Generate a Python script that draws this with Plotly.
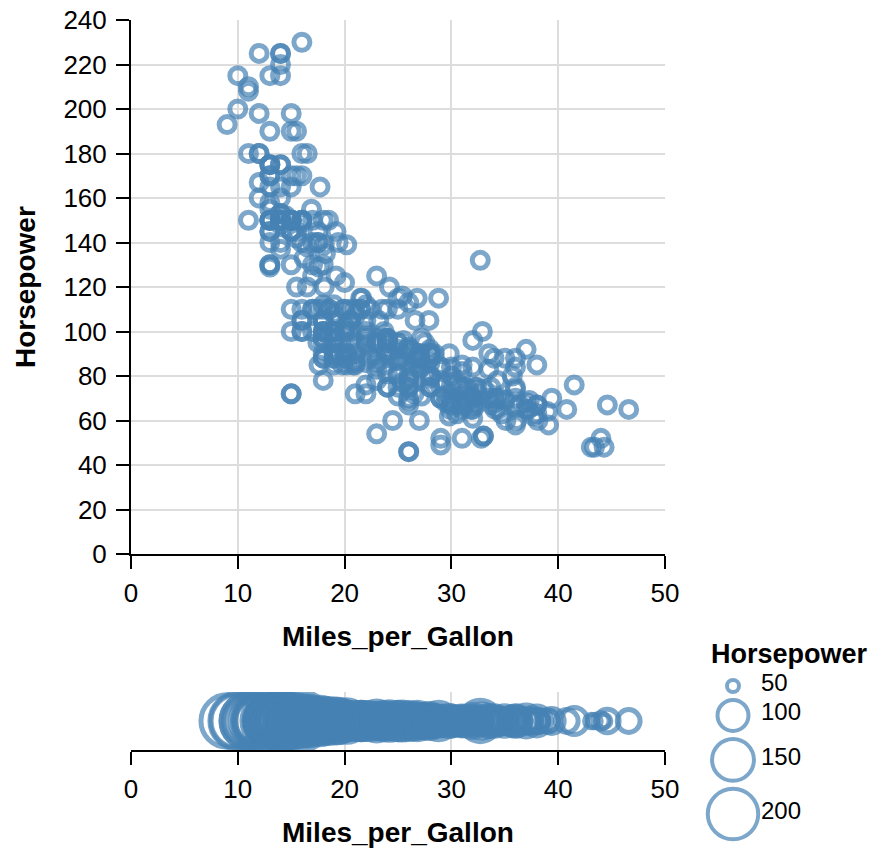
import math
import plotly.graph_objects as go

# Cars dataset: Miles_per_Gallon and Horsepower (None = missing horsepower)
mpg = [
    18, 15, 18, 16, 17, 15, 14, 14, 14, 15,
    15, 14, 15, 14, 24, 22, 18, 21, 27, 26,
    25, 24, 25, 26, 21, 10, 10, 11, 9, 27,
    28, 25, 25, 19, 16, 17, 19, 18, 14, 14,
    14, 14, 12, 13, 13, 18, 22, 19, 18, 23,
    28, 30, 30, 31, 35, 27, 26, 24, 25, 23,
    20, 21, 13, 14, 15, 14, 17, 11, 13, 12,
    13, 19, 15, 13, 13, 14, 18, 22, 21, 26,
    22, 28, 23, 28, 27, 13, 14, 13, 14, 15,
    12, 13, 13, 14, 13, 12, 13, 18, 16, 18,
    18, 23, 26, 11, 12, 13, 12, 18, 20, 21,
    22, 18, 19, 21, 26, 15, 16, 29, 24, 20,
    19, 15, 24, 20, 11, 20, 21, 19, 15, 31,
    26, 32, 25, 16, 16, 18, 16, 13, 14, 14,
    14, 29, 26, 26, 31, 32, 28, 24, 26, 24,
    26, 31, 19, 18, 15, 15, 16, 15, 16, 14,
    17, 16, 15, 18, 21, 20, 13, 29, 23, 20,
    23, 24, 25, 24, 18, 29, 19, 23, 23, 22,
    25, 33, 28, 25, 25, 26, 27, 17.5, 16, 15.5,
    14.5, 22, 22, 24, 22.5, 29, 24.5, 29, 33, 20,
    18, 18.5, 17.5, 29.5, 32, 28, 26.5, 20, 13, 19,
    19, 16.5, 16.5, 13, 13, 13, 31.5, 30, 36, 25.5,
    33.5, 17.5, 17, 15.5, 15, 17.5, 20.5, 19, 18.5, 16,
    15.5, 15.5, 16, 29, 24.5, 26, 25.5, 30.5, 33.5, 30,
    30.5, 22, 21.5, 21.5, 43.1, 36.1, 32.8, 39.4, 36.1, 19.9,
    19.4, 20.2, 19.2, 20.5, 20.2, 25.1, 20.5, 19.4, 20.6, 20.8,
    18.6, 18.1, 19.2, 17.7, 18.1, 17.5, 30, 27.5, 27.2, 30.9,
    21.1, 23.2, 23.8, 23.9, 20.3, 17, 21.6, 16.2, 31.5, 29.5,
    21.5, 19.8, 22.3, 20.2, 20.6, 17, 17.6, 16.5, 18.2, 16.9,
    15.5, 19.2, 18.5, 31.9, 34.1, 35.7, 27.4, 25.4, 23, 27.2,
    23.9, 34.2, 34.5, 31.8, 37.3, 28.4, 28.8, 26.8, 33.5, 41.5,
    38.1, 32.1, 37.2, 28, 26.4, 24.3, 19.1, 34.3, 29.8, 31.3,
    37, 32.2, 46.6, 27.9, 40.8, 44.3, 43.4, 36.4, 30, 44.6,
    40.9, 33.8, 29.8, 32.7, 23.7, 35, 23.6, 32.4, 27.2, 26.6,
    25.8, 23.5, 30, 39.1, 39, 35.1, 32.3, 37, 37.7, 34.1,
    34.7, 34.4, 29.9, 33, 34.5, 33.7, 32.4, 32.9, 31.6, 28.1,
    30.7, 25.4, 24.2, 22.4, 26.6, 20.2, 17.6, 28, 27, 34,
    31, 29, 27, 24, 23, 36, 37, 31, 38, 36,
    36, 36, 34, 38, 32, 38, 25, 38, 26, 22,
    32, 36, 27, 27, 44, 32, 28, 31,
]

horsepower = [
    130, 165, 150, 150, 140, 198, 220, 215, 225, 190,
    170, 160, 150, 225, 95, 95, 97, 85, 88, 46,
    87, 90, 95, 113, 90, 215, 200, 210, 193, 88,
    90, 95, None, 100, 105, 100, 88, 100, 165, 175,
    153, 150, 180, 170, 175, 110, 72, 100, 88, 86,
    90, 70, 76, 65, 69, 60, 70, 95, 80, 54,
    90, 86, 165, 175, 150, 153, 150, 208, 155, 160,
    190, 97, 150, 130, 140, 150, 112, 76, 87, 69,
    86, 92, 97, 80, 88, 175, 150, 145, 137, 150,
    198, 150, 158, 150, 215, 225, 175, 105, 100, 100,
    88, 95, 46, 150, 167, 170, 180, 100, 88, 72,
    94, 90, 85, 107, 90, 145, 230, 49, 75, 91,
    112, 150, 110, 122, 180, 95, None, 100, 100, 67,
    80, 65, 75, 100, 110, 105, 140, 150, 150, 140,
    150, 83, 67, 78, 52, 61, 75, 75, 75, 97,
    93, 67, 95, 105, 72, 72, 170, 145, 150, 148,
    110, 105, 110, 95, 110, 110, 129, 75, 83, 100,
    78, 96, 71, 97, 97, 70, 90, 95, 88, 98,
    115, 53, 86, 81, 92, 79, 83, 140, 150, 120,
    152, 100, 105, 81, 90, 52, 60, 70, 53, 100,
    78, 110, 95, 71, 70, 75, 72, 102, 150, 88,
    108, 120, 180, 145, 130, 150, 68, 80, 58, 96,
    70, 145, 110, 145, 130, 110, 105, 100, 98, 180,
    170, 190, 149, 78, 88, 75, 89, 63, 83, 67,
    78, 97, 110, 110, 48, 66, 52, 70, 60, 110,
    140, 139, 105, 95, 85, 88, 100, 90, 105, 85,
    110, 120, 145, 165, 139, 140, 68, 95, 97, 75,
    95, 105, 85, 97, 103, 125, 115, 133, 71, 68,
    115, 85, 88, 90, 110, 130, 129, 138, 135, 155,
    142, 125, 150, 71, 65, 80, 80, 77, 125, 71,
    90, 70, 70, 65, 69, 90, 115, 115, 90, 76,
    60, 70, 65, 90, 88, 90, 90, 78, 90, 75,
    92, 75, 65, 105, 65, 48, 48, 67, 67, 67,
    None, 67, 62, 132, 100, 88, None, 72, 84, 84,
    92, 110, 84, 58, 64, 60, 67, 65, 62, 68,
    63, 65, 65, 74, None, 75, 75, 100, 74, 80,
    76, 116, 120, 110, 105, 88, 85, 88, 88, 88,
    85, 84, 90, 92, None, 74, 68, 68, 63, 70,
    88, 75, 70, 67, 67, 67, 110, 85, 92, 112,
    96, 84, 90, 86, 52, 84, 79, 82,
]

legend_values = [50, 100, 150, 200]
x_ticks = [0, 10, 20, 30, 40, 50]
y_ticks = [0, 20, 40, 60, 80, 100, 120, 140, 160, 180, 200, 220, 240]

assert len(mpg) == len(horsepower)
pairs = [(m, h) for m, h in zip(mpg, horsepower) if h is not None]
xs = [p[0] for p in pairs]
hs = [p[1] for p in pairs]

# canvas / layout helpers (pixel -> paper)
W, H = 882, 851
def fx(px):
    return px / W
def fy(py):
    return 1 - py / H

COLOR = "#4682b4"
FONT = "Liberation Sans, Arial, Helvetica, sans-serif"
LW = 5

# size scale: area linear in horsepower (marker diameter in px)
def size_of(hp):
    return math.sqrt(max(15.5 * hp - 654, 20)) + 4

fig = go.Figure()

# main scatter
fig.add_trace(go.Scatter(
    x=xs, y=hs, mode="markers", xaxis="x", yaxis="y",
    marker=dict(symbol="circle-open", size=16, color=COLOR, opacity=0.7,
                line=dict(width=LW, color=COLOR)),
    showlegend=False, hoverinfo="x+y",
))

# strip plot sized by horsepower
fig.add_trace(go.Scatter(
    x=xs, y=[0] * len(xs), mode="markers", xaxis="x2", yaxis="y2",
    marker=dict(symbol="circle-open", size=[size_of(h) for h in hs], color=COLOR,
                opacity=0.7, line=dict(width=LW, color=COLOR)),
    showlegend=False, hoverinfo="x",
))

# size legend (drawn on a pixel-space overlay axis)
leg_d = [size_of(v) - 3 for v in legend_values]
leg_y = [686]
for i in range(1, len(legend_values)):
    leg_y.append(leg_y[-1] + (leg_d[i - 1] + leg_d[i]) / 2 + 8)
fig.add_trace(go.Scatter(
    x=[733] * len(legend_values), y=leg_y, mode="markers", xaxis="x3", yaxis="y3",
    marker=dict(symbol="circle-open", size=leg_d, color=COLOR, opacity=0.7,
                line=dict(width=4, color=COLOR)),
    showlegend=False, hoverinfo="skip",
))
fig.add_trace(go.Scatter(
    x=[761] * len(legend_values), y=[y - 1 for y in leg_y], mode="text",
    xaxis="x3", yaxis="y3",
    text=[str(v) for v in legend_values], textposition="middle right",
    textfont=dict(family=FONT, size=24, color="#000"),
    showlegend=False, hoverinfo="skip",
))

axis_common = dict(
    showgrid=True, gridcolor="#dddddd", gridwidth=2,
    showline=True, linecolor="#000", linewidth=2,
    ticks="outside", ticklen=13, tickwidth=2, tickcolor="#000",
    zeroline=False, automargin=False,
    tickfont=dict(family=FONT, size=26, color="#000"),
    fixedrange=True,
)

fig.update_layout(
    template="none",
    width=W, height=H,
    margin=dict(l=0, r=0, t=0, b=0, pad=0),
    paper_bgcolor="white", plot_bgcolor="rgba(0,0,0,0)",
    font=dict(family=FONT, color="#000"),
    xaxis=dict(axis_common, domain=[fx(131), fx(665)], anchor="y",
               range=[0, 50], tickvals=x_ticks, ticklabelstandoff=2),
    yaxis=dict(axis_common, domain=[fy(554), fy(20)], anchor="x",
               range=[0, 240], tickvals=y_ticks, ticklabelstandoff=4),
    xaxis2=dict(axis_common, domain=[fx(131), fx(665)], anchor="y2",
                range=[0, 50], tickvals=x_ticks, ticklabelstandoff=2),
    yaxis2=dict(domain=[fy(750), fy(692)], anchor="x2", range=[-1, 1],
                visible=False, fixedrange=True, automargin=False),
    xaxis3=dict(domain=[0, 1], anchor="y3", range=[0, W], visible=False,
                fixedrange=True, automargin=False),
    yaxis3=dict(domain=[0, 1], anchor="x3", range=[H, 0], visible=False,
                fixedrange=True, automargin=False),
    annotations=[
        dict(text="<b>Horsepower</b>", x=fx(25), y=fy(287), xref="paper", yref="paper",
             textangle=-90, showarrow=False, xanchor="center", yanchor="middle",
             font=dict(family=FONT, size=28, color="#000")),
        dict(text="<b>Miles_per_Gallon</b>", x=fx(398), y=fy(636), xref="paper", yref="paper",
             showarrow=False, xanchor="center", yanchor="middle",
             font=dict(family=FONT, size=28, color="#000")),
        dict(text="<b>Miles_per_Gallon</b>", x=fx(398), y=fy(832), xref="paper", yref="paper",
             showarrow=False, xanchor="center", yanchor="middle",
             font=dict(family=FONT, size=28, color="#000")),
        dict(text="<b>Horsepower</b>", x=fx(709), y=fy(654), xref="paper", yref="paper",
             showarrow=False, xanchor="left", yanchor="middle",
             font=dict(family=FONT, size=27, color="#000")),
    ],
)

fig.write_html("out.html", post_script="document.body.style.margin='0';",
               config={"displayModeBar": False})
